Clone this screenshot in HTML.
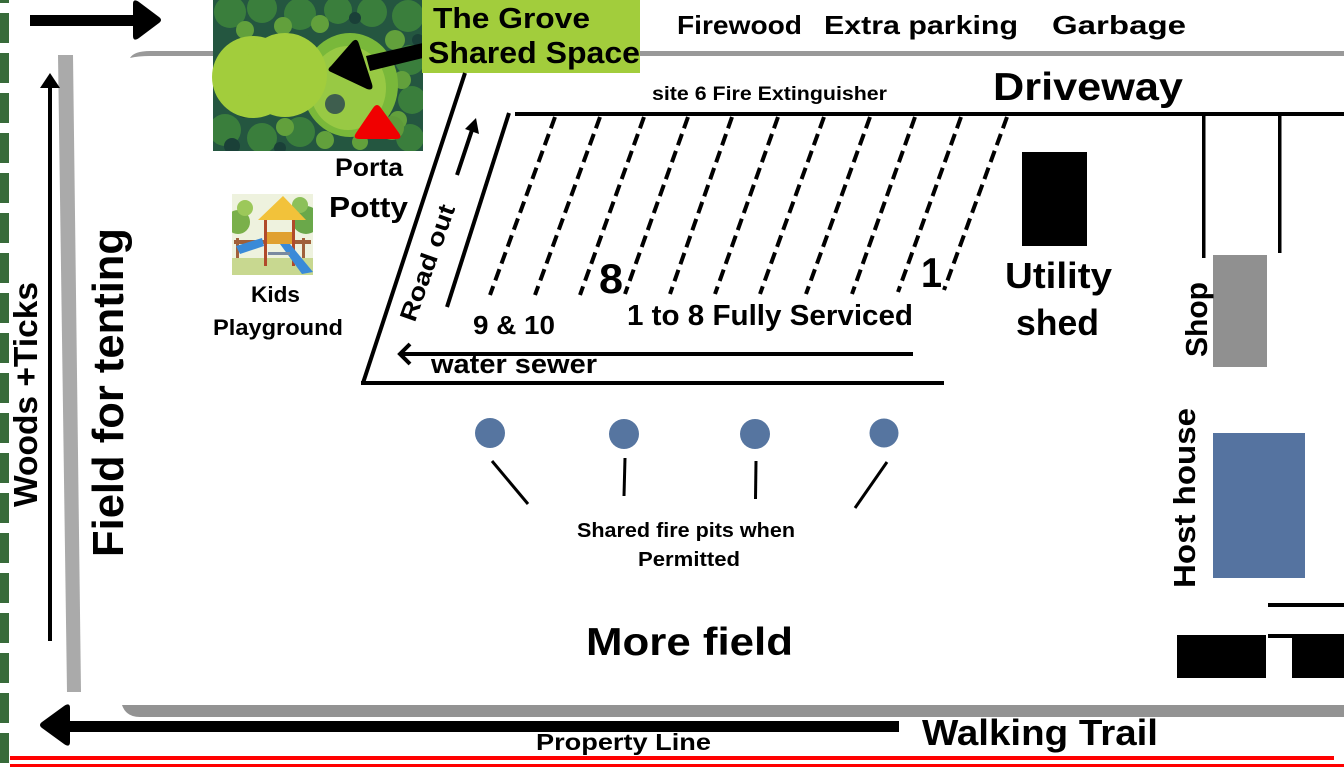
<!DOCTYPE html>
<html>
<head>
<meta charset="utf-8">
<style>
html,body{margin:0;padding:0;background:#fff;}
svg{display:block;}
text{font-family:"Liberation Sans",sans-serif;font-weight:bold;fill:#000;}
</style>
</head>
<body>
<svg width="1344" height="768" viewBox="0 0 1344 768" xmlns="http://www.w3.org/2000/svg">
<defs>
<clipPath id="grove"><rect x="213" y="0" width="210" height="151"/></clipPath>
<clipPath id="play"><rect x="232" y="194" width="81" height="81"/></clipPath>
</defs>
<rect width="1344" height="768" fill="#fff"/>

<!-- left green dashed border -->
<g fill="#386b3a">
<rect x="0" y="0" width="9" height="3"/>
<rect x="0" y="13" width="9" height="30"/><rect x="0" y="53" width="9" height="30"/>
<rect x="0" y="93" width="9" height="30"/><rect x="0" y="133" width="9" height="30"/>
<rect x="0" y="173" width="9" height="30"/><rect x="0" y="213" width="9" height="30"/>
<rect x="0" y="253" width="9" height="30"/><rect x="0" y="293" width="9" height="30"/>
<rect x="0" y="333" width="9" height="30"/><rect x="0" y="373" width="9" height="30"/>
<rect x="0" y="413" width="9" height="30"/><rect x="0" y="453" width="9" height="30"/>
<rect x="0" y="493" width="9" height="30"/><rect x="0" y="533" width="9" height="30"/>
<rect x="0" y="573" width="9" height="30"/><rect x="0" y="613" width="9" height="30"/>
<rect x="0" y="653" width="9" height="30"/><rect x="0" y="693" width="9" height="30"/>
<rect x="0" y="733" width="9" height="30"/>
</g>

<!-- red property lines -->
<rect x="10" y="756" width="1324" height="4" fill="#f00"/>
<rect x="10" y="764" width="1334" height="3" fill="#f00"/>

<!-- gray top road line with rounded left -->
<path d="M130,58 Q134,51 150,51 L1344,51 L1344,56 L150,56 Q138,56 130,58 Z" fill="#999"/>
<!-- gray bottom band -->
<path d="M122,705 L1344,705 L1344,717 L140,717 Q126,717 122,705 Z" fill="#939393"/>
<!-- left gray vertical bar -->
<polygon points="58,55 73,55 81,692 67,692" fill="#aaa"/>

<!-- top-left right arrow -->
<rect x="30" y="15" width="106" height="11" fill="#000"/>
<path d="M133,4 Q133,-2 139,2 L159,17 Q163,20 159,23 L139,38 Q133,42 133,36 Z" fill="#000"/>

<!-- vertical up arrow -->
<rect x="48" y="85" width="4" height="556" fill="#000"/>
<polygon points="40,88 50,73 60,88" fill="#000"/>

<!-- bottom left arrow -->
<rect x="68" y="721" width="831" height="11" fill="#000"/>
<path d="M42,728 Q38,725 42,722 L64,706 Q70,702 70,708 L70,742 Q70,748 64,744 Z" fill="#000"/>

<!-- Grove image -->
<g clip-path="url(#grove)">
<rect x="213" y="0" width="210" height="151" fill="#245640"/>
<g fill="#3a7e3c">
<circle cx="230" cy="12" r="16"/><circle cx="262" cy="8" r="15"/><circle cx="300" cy="14" r="16"/>
<circle cx="338" cy="10" r="14"/><circle cx="372" cy="12" r="15"/><circle cx="408" cy="16" r="16"/>
<circle cx="225" cy="130" r="16"/><circle cx="262" cy="138" r="15"/><circle cx="300" cy="132" r="15"/>
<circle cx="410" cy="60" r="15"/><circle cx="412" cy="100" r="14"/><circle cx="410" cy="138" r="14"/>
</g>
<g fill="#62a03c">
<circle cx="245" cy="30" r="9"/><circle cx="283" cy="26" r="9"/><circle cx="320" cy="24" r="9"/>
<circle cx="395" cy="40" r="10"/><circle cx="402" cy="80" r="9"/><circle cx="398" cy="120" r="9"/>
<circle cx="285" cy="127" r="9"/><circle cx="325" cy="140" r="9"/><circle cx="360" cy="142" r="8"/>
</g>
<g fill="#1a4038">
<circle cx="268" cy="52" r="7"/><circle cx="232" cy="146" r="8"/><circle cx="355" cy="18" r="6"/>
<circle cx="418" cy="40" r="6"/><circle cx="245" cy="110" r="8"/><circle cx="280" cy="148" r="6"/>
</g>
<ellipse cx="350" cy="85" rx="48" ry="52" fill="#79b83a"/>
<ellipse cx="348" cy="88" rx="38" ry="42" fill="#98c944"/>
<circle cx="335" cy="104" r="10" fill="#3e5e4e"/>
<circle cx="392" cy="128" r="12" fill="#5f9a3a"/>
</g>
<!-- lime blob -->
<circle cx="253" cy="77" r="41" fill="#a2cd3c"/>
<circle cx="285" cy="75" r="42" fill="#a2cd3c"/>
<!-- grove arrow -->
<polygon points="366,56 423,43 423,58 370,71" fill="#000"/>
<path d="M331,72 Q326,70 331,66 L352,42 Q357,37 359,44 L372,84 Q374,91 367,89 Z" fill="#000"/>
<!-- red triangle -->
<path d="M373,108 Q377,102 381,108 L399,133 Q403,139 396,139 L360,139 Q352,139 356,133 Z" fill="#f00000"/>
<!-- label box -->
<rect x="422" y="0" width="218" height="73" fill="#a2cd3c"/>
<text x="433" y="28" font-size="29" textLength="157" lengthAdjust="spacingAndGlyphs">The Grove</text>
<text x="428" y="63" font-size="31" textLength="212" lengthAdjust="spacingAndGlyphs">Shared Space</text>

<!-- top labels -->
<text x="677" y="34" font-size="26" textLength="125" lengthAdjust="spacingAndGlyphs">Firewood</text>
<text x="824" y="34" font-size="26" textLength="194" lengthAdjust="spacingAndGlyphs">Extra parking</text>
<text x="1052" y="34" font-size="26" textLength="134" lengthAdjust="spacingAndGlyphs">Garbage</text>
<text x="652" y="100" font-size="19" textLength="235" lengthAdjust="spacingAndGlyphs">site 6 Fire Extinguisher</text>
<text x="993" y="100" font-size="39" textLength="190" lengthAdjust="spacingAndGlyphs">Driveway</text>

<!-- Porta potty & playground -->
<text x="335" y="176" font-size="25" textLength="68" lengthAdjust="spacingAndGlyphs">Porta</text>
<text x="329" y="217" font-size="29" textLength="79" lengthAdjust="spacingAndGlyphs">Potty</text>

<g clip-path="url(#play)">
<rect x="232" y="194" width="81" height="81" fill="#eef2de"/>
<circle cx="238" cy="222" r="12" fill="#7ab04a"/>
<circle cx="245" cy="208" r="8" fill="#9cc85a"/>
<circle cx="306" cy="220" r="14" fill="#6aa84a"/>
<circle cx="300" cy="205" r="8" fill="#8cc05a"/>
<rect x="232" y="258" width="81" height="17" fill="#c8d890"/>
<rect x="234" y="240" width="77" height="4" fill="#a0603a"/>
<rect x="236" y="238" width="3" height="20" fill="#a0603a"/>
<rect x="302" y="238" width="3" height="20" fill="#a0603a"/>
<polygon points="258,220 283,196 306,220" fill="#f2c23a"/>
<rect x="264" y="220" width="3" height="46" fill="#b04a2a"/>
<rect x="292" y="220" width="3" height="46" fill="#b04a2a"/>
<rect x="267" y="232" width="25" height="12" fill="#e0a030"/>
<polygon points="280,244 290,244 313,272 302,274" fill="#3a8ad8"/>
<polygon points="236,246 262,238 264,246 240,254" fill="#3a8ad8"/>
<rect x="268" y="252" width="22" height="3" fill="#7a8aa0"/>
</g>
<text x="251" y="302" font-size="22" textLength="49" lengthAdjust="spacingAndGlyphs">Kids</text>
<text x="213" y="335" font-size="22" textLength="130" lengthAdjust="spacingAndGlyphs">Playground</text>

<!-- parallelogram site area -->
<g stroke="#000" stroke-width="4" fill="none" stroke-linecap="butt">
<line x1="465" y1="73" x2="363" y2="383"/>
<line x1="361" y1="383" x2="944" y2="383"/>
<line x1="515" y1="114" x2="1344" y2="114"/>
<line x1="509" y1="113" x2="447" y2="307"/>
<line x1="457" y1="175" x2="472" y2="130"/>
<line x1="913" y1="354" x2="400" y2="354"/>
<polyline points="410,344 400,354 410,364" stroke-width="4"/>
</g>
<polygon points="465,129 476,118 479,134" fill="#000"/>

<g stroke="#000" stroke-width="4" stroke-dasharray="12 6" fill="none">
<line x1="555" y1="117" x2="490" y2="295"/>
<line x1="600" y1="117" x2="535" y2="295"/>
<line x1="644" y1="117" x2="580" y2="295"/>
<line x1="688" y1="117" x2="625" y2="294"/>
<line x1="732" y1="117" x2="670" y2="294"/>
<line x1="778" y1="117" x2="715" y2="294"/>
<line x1="824" y1="117" x2="760" y2="294"/>
<line x1="870" y1="117" x2="806" y2="294"/>
<line x1="915" y1="117" x2="852" y2="294"/>
<line x1="961" y1="117" x2="898" y2="292"/>
<line x1="1007" y1="117" x2="944" y2="290"/>
</g>

<text transform="translate(428,263) rotate(-70.5)" text-anchor="middle" dominant-baseline="central" font-size="24" textLength="122" lengthAdjust="spacingAndGlyphs">Road out</text>
<text x="599" y="293" font-size="42" textLength="24" lengthAdjust="spacingAndGlyphs">8</text>
<text x="921" y="287" font-size="42" textLength="21" lengthAdjust="spacingAndGlyphs">1</text>
<text x="473" y="334" font-size="26" textLength="82" lengthAdjust="spacingAndGlyphs">9 &amp; 10</text>
<text x="627" y="325" font-size="29" textLength="286" lengthAdjust="spacingAndGlyphs">1 to 8 Fully Serviced</text>
<text x="431" y="373" font-size="27" textLength="166" lengthAdjust="spacingAndGlyphs">water sewer</text>

<!-- utility shed -->
<rect x="1022" y="152" width="65" height="94" fill="#000"/>
<text x="1005" y="288" font-size="36" textLength="107" lengthAdjust="spacingAndGlyphs">Utility</text>
<text x="1016" y="335" font-size="36" textLength="83" lengthAdjust="spacingAndGlyphs">shed</text>

<!-- shop -->
<rect x="1202" y="116" width="3.5" height="142" fill="#000"/>
<rect x="1278" y="114" width="3.5" height="139" fill="#000"/>
<rect x="1213" y="255" width="54" height="112" fill="#909090"/>
<text transform="translate(1207,357) rotate(-90)" font-size="31" textLength="75" lengthAdjust="spacingAndGlyphs">Shop</text>

<!-- host house -->
<rect x="1213" y="433" width="92" height="145" fill="#5573a0"/>
<text transform="translate(1195,588) rotate(-90)" font-size="31" textLength="180" lengthAdjust="spacingAndGlyphs">Host house</text>

<!-- bottom right structures -->
<rect x="1268" y="603" width="76" height="4" fill="#000"/>
<rect x="1268" y="634" width="76" height="4" fill="#000"/>
<rect x="1177" y="635" width="89" height="43" fill="#000"/>
<rect x="1292" y="638" width="52" height="40" fill="#000"/>

<!-- fire pits -->
<g fill="#5675a0">
<circle cx="490" cy="433" r="15"/>
<circle cx="624" cy="434" r="15"/>
<circle cx="755" cy="434" r="15"/>
<circle cx="884" cy="433" r="14.5"/>
</g>
<g stroke="#000" stroke-width="3">
<line x1="492" y1="461" x2="528" y2="504"/>
<line x1="625" y1="458" x2="624" y2="496"/>
<line x1="756" y1="461" x2="755.5" y2="499"/>
<line x1="887" y1="462" x2="855" y2="508"/>
</g>
<text x="577" y="537" font-size="20" textLength="218" lengthAdjust="spacingAndGlyphs">Shared fire pits when</text>
<text x="638" y="566" font-size="20" textLength="102" lengthAdjust="spacingAndGlyphs">Permitted</text>
<text x="586" y="655" font-size="39" textLength="207" lengthAdjust="spacingAndGlyphs">More field</text>

<!-- bottom labels -->
<text x="536" y="750" font-size="23" textLength="175" lengthAdjust="spacingAndGlyphs">Property Line</text>
<text x="922" y="745" font-size="36" textLength="236" lengthAdjust="spacingAndGlyphs">Walking Trail</text>

<!-- left rotated labels -->
<text transform="translate(123,557) rotate(-90)" font-size="44" textLength="329" lengthAdjust="spacingAndGlyphs">Field for tenting</text>
<text transform="translate(37,507) rotate(-90)" font-size="33" textLength="225" lengthAdjust="spacingAndGlyphs">Woods +Ticks</text>
</svg>
</body>
</html>
